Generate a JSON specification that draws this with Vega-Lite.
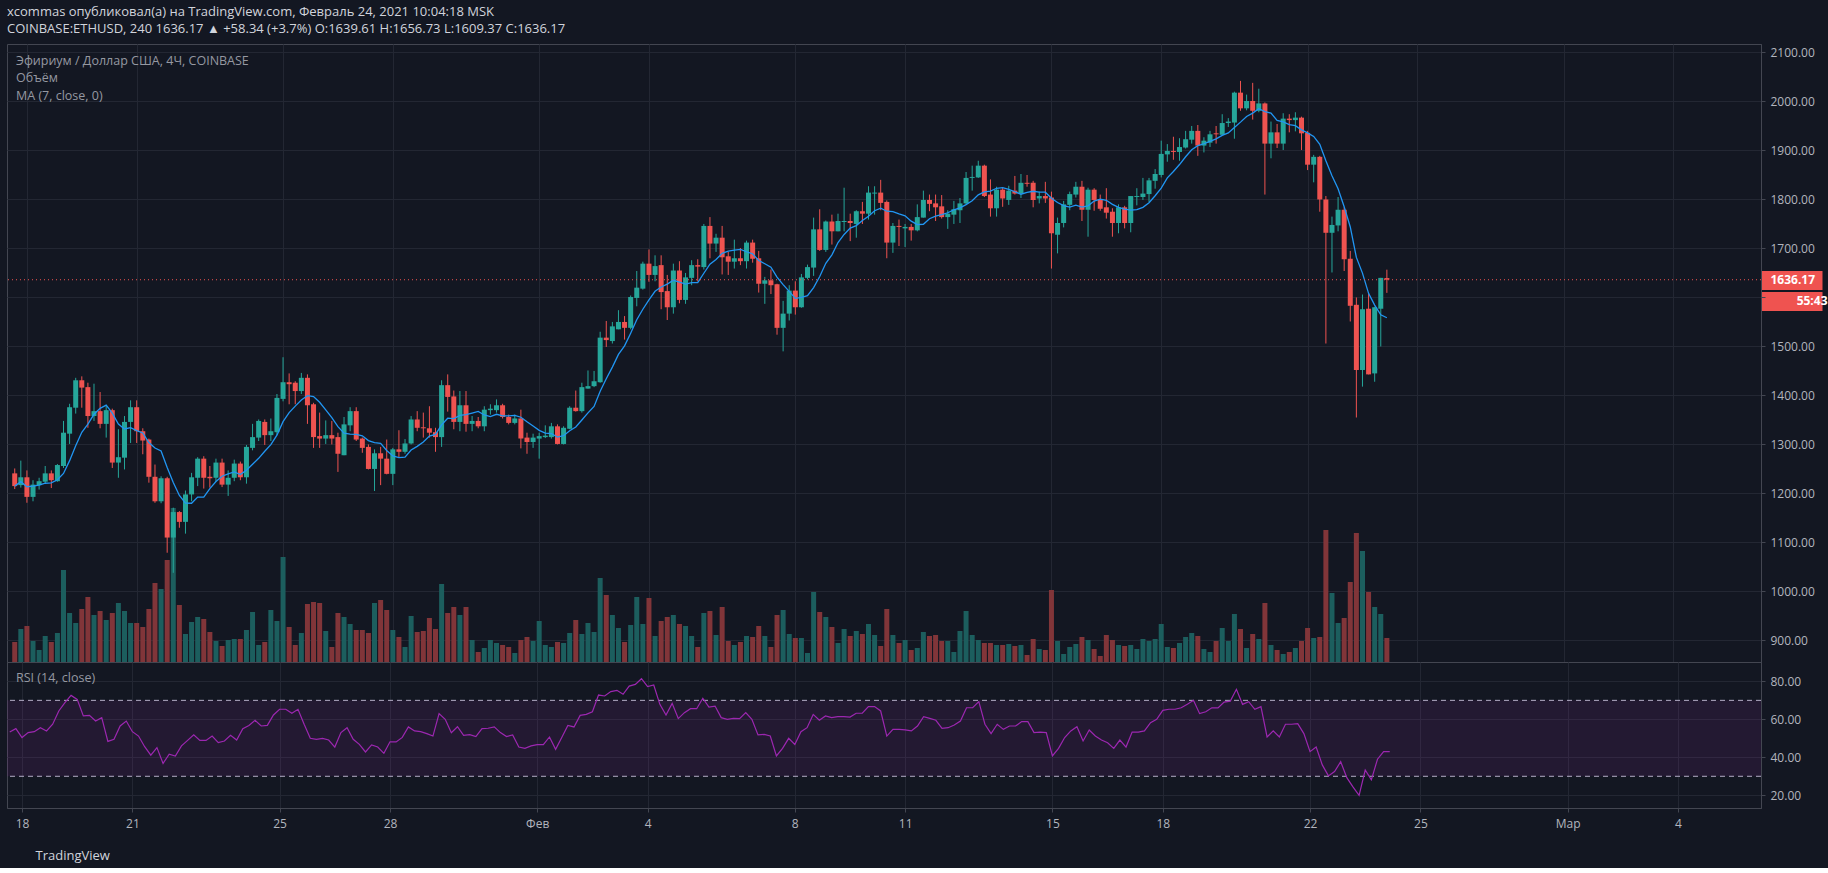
{
  "$schema": "https://vega.github.io/schema/vega-lite/v6.json",
  "background": "#131722",
  "padding": {"left": 6, "top": 5, "right": 68, "bottom": 5},
  "title": {
    "text": "xcommas опубликовал(а) на TradingView.com, Февраль 24, 2021 10:04:18 MSK",
    "subtitle": "COINBASE:ETHUSD, 240  1636.17 ▲ +58.34 (+3.7%)  O:1639.61  H:1656.73  L:1609.37  C:1636.17",
    "anchor": "start", "frame": "bounds", "offset": 8, "dx": 1,
    "font": "Open Sans", "fontSize": 13, "fontWeight": "normal", "color": "#d1d4dc",
    "subtitleFont": "Open Sans", "subtitleFontSize": 13, "subtitleColor": "#d1d4dc", "subtitlePadding": 4
  },
  "config": {
    "view": {"stroke": "#434651", "strokeWidth": 1},
    "font": "Open Sans",
    "axis": {
      "gridColor": "#232733", "domainColor": "#434651", "tickColor": "#434651",
      "labelColor": "#b2b5be", "labelFontSize": 12, "labelFont": "Open Sans",
      "tickSize": 4, "labelPadding": 5, "labelOverlap": false, "labelFlush": false
    }
  },
  "datasets": {
    "band": [{"lo": 30, "hi": 70}],
    "lvl": [{"v": 30}, {"v": 70}],
    "c": [
      {"t":"2021-01-17T16:00Z","o":1241,"h":1251,"l":1209,"c":1215,"v":60,"r":53.3},
      {"t":"2021-01-17T20:00Z","o":1217,"h":1267,"l":1212,"c":1233,"v":99,"r":55.1},
      {"t":"2021-01-18T00:00Z","o":1233,"h":1247,"l":1181,"c":1193,"v":108,"r":50.4},
      {"t":"2021-01-18T04:00Z","o":1193,"h":1227,"l":1184,"c":1218,"v":63,"r":53},
      {"t":"2021-01-18T08:00Z","o":1217,"h":1232,"l":1208,"c":1225,"v":36,"r":53.5},
      {"t":"2021-01-18T12:00Z","o":1224,"h":1256,"l":1220,"c":1241,"v":78,"r":55.6},
      {"t":"2021-01-18T16:00Z","o":1241,"h":1247,"l":1211,"c":1227,"v":60,"r":53.9},
      {"t":"2021-01-18T20:00Z","o":1225,"h":1260,"l":1224,"c":1258,"v":87,"r":57.4},
      {"t":"2021-01-19T00:00Z","o":1256,"h":1348,"l":1252,"c":1324,"v":276,"r":64.4},
      {"t":"2021-01-19T04:00Z","o":1322,"h":1383,"l":1301,"c":1376,"v":147,"r":68.8},
      {"t":"2021-01-19T08:00Z","o":1375,"h":1436,"l":1363,"c":1431,"v":117,"r":72.6},
      {"t":"2021-01-19T12:00Z","o":1431,"h":1439,"l":1375,"c":1416,"v":159,"r":70.5},
      {"t":"2021-01-19T16:00Z","o":1417,"h":1426,"l":1334,"c":1358,"v":195,"r":61.8},
      {"t":"2021-01-19T20:00Z","o":1358,"h":1424,"l":1348,"c":1368,"v":141,"r":62.1},
      {"t":"2021-01-20T00:00Z","o":1368,"h":1407,"l":1333,"c":1342,"v":153,"r":59.1},
      {"t":"2021-01-20T04:00Z","o":1342,"h":1379,"l":1314,"c":1370,"v":126,"r":60.9},
      {"t":"2021-01-20T08:00Z","o":1370,"h":1373,"l":1252,"c":1263,"v":147,"r":48.4},
      {"t":"2021-01-20T12:00Z","o":1263,"h":1331,"l":1232,"c":1274,"v":177,"r":49.5},
      {"t":"2021-01-20T16:00Z","o":1273,"h":1358,"l":1249,"c":1346,"v":153,"r":56.5},
      {"t":"2021-01-20T20:00Z","o":1346,"h":1390,"l":1303,"c":1376,"v":117,"r":59.1},
      {"t":"2021-01-21T00:00Z","o":1376,"h":1390,"l":1303,"c":1327,"v":117,"r":53.5},
      {"t":"2021-01-21T04:00Z","o":1327,"h":1333,"l":1280,"c":1308,"v":105,"r":51.2},
      {"t":"2021-01-21T08:00Z","o":1310,"h":1312,"l":1222,"c":1234,"v":159,"r":45.6},
      {"t":"2021-01-21T12:00Z","o":1234,"h":1259,"l":1181,"c":1184,"v":237,"r":41.1},
      {"t":"2021-01-21T16:00Z","o":1184,"h":1235,"l":1180,"c":1231,"v":219,"r":45.1},
      {"t":"2021-01-21T20:00Z","o":1231,"h":1234,"l":1079,"c":1110,"v":306,"r":36.8},
      {"t":"2021-01-22T00:00Z","o":1110,"h":1171,"l":1038,"c":1162,"v":462,"r":41.6},
      {"t":"2021-01-22T04:00Z","o":1162,"h":1164,"l":1130,"c":1142,"v":171,"r":40.7},
      {"t":"2021-01-22T08:00Z","o":1142,"h":1206,"l":1118,"c":1198,"v":84,"r":46},
      {"t":"2021-01-22T12:00Z","o":1198,"h":1242,"l":1184,"c":1233,"v":120,"r":48.9},
      {"t":"2021-01-22T16:00Z","o":1232,"h":1274,"l":1215,"c":1271,"v":135,"r":51.8},
      {"t":"2021-01-22T20:00Z","o":1271,"h":1276,"l":1210,"c":1232,"v":129,"r":48.9},
      {"t":"2021-01-23T00:00Z","o":1234,"h":1256,"l":1212,"c":1231,"v":90,"r":48.9},
      {"t":"2021-01-23T04:00Z","o":1232,"h":1271,"l":1224,"c":1263,"v":63,"r":51.2},
      {"t":"2021-01-23T08:00Z","o":1263,"h":1271,"l":1213,"c":1218,"v":48,"r":47.7},
      {"t":"2021-01-23T12:00Z","o":1218,"h":1247,"l":1195,"c":1232,"v":66,"r":48.6},
      {"t":"2021-01-23T16:00Z","o":1232,"h":1269,"l":1225,"c":1261,"v":69,"r":51.6},
      {"t":"2021-01-23T20:00Z","o":1261,"h":1265,"l":1227,"c":1233,"v":69,"r":49.1},
      {"t":"2021-01-24T00:00Z","o":1233,"h":1299,"l":1220,"c":1295,"v":96,"r":55.1},
      {"t":"2021-01-24T04:00Z","o":1293,"h":1342,"l":1288,"c":1315,"v":150,"r":56.8},
      {"t":"2021-01-24T08:00Z","o":1314,"h":1351,"l":1307,"c":1348,"v":51,"r":59.5},
      {"t":"2021-01-24T12:00Z","o":1346,"h":1351,"l":1299,"c":1319,"v":60,"r":56.5},
      {"t":"2021-01-24T16:00Z","o":1319,"h":1353,"l":1307,"c":1327,"v":156,"r":56.8},
      {"t":"2021-01-24T20:00Z","o":1325,"h":1403,"l":1319,"c":1395,"v":123,"r":62.3},
      {"t":"2021-01-25T00:00Z","o":1393,"h":1478,"l":1388,"c":1427,"v":315,"r":65.3},
      {"t":"2021-01-25T04:00Z","o":1427,"h":1445,"l":1382,"c":1423,"v":105,"r":65.3},
      {"t":"2021-01-25T08:00Z","o":1426,"h":1429,"l":1382,"c":1409,"v":51,"r":63.2},
      {"t":"2021-01-25T12:00Z","o":1409,"h":1446,"l":1403,"c":1436,"v":87,"r":65.3},
      {"t":"2021-01-25T16:00Z","o":1436,"h":1443,"l":1342,"c":1380,"v":174,"r":57.4},
      {"t":"2021-01-25T20:00Z","o":1382,"h":1385,"l":1293,"c":1315,"v":180,"r":50},
      {"t":"2021-01-26T00:00Z","o":1317,"h":1365,"l":1293,"c":1312,"v":177,"r":49.5},
      {"t":"2021-01-26T04:00Z","o":1312,"h":1349,"l":1301,"c":1319,"v":93,"r":50},
      {"t":"2021-01-26T08:00Z","o":1319,"h":1348,"l":1300,"c":1312,"v":45,"r":49.1},
      {"t":"2021-01-26T12:00Z","o":1315,"h":1324,"l":1244,"c":1281,"v":147,"r":45.4},
      {"t":"2021-01-26T16:00Z","o":1278,"h":1356,"l":1278,"c":1341,"v":135,"r":53},
      {"t":"2021-01-26T20:00Z","o":1339,"h":1376,"l":1327,"c":1368,"v":114,"r":55.6},
      {"t":"2021-01-27T00:00Z","o":1368,"h":1376,"l":1307,"c":1310,"v":96,"r":49.5},
      {"t":"2021-01-27T04:00Z","o":1312,"h":1314,"l":1283,"c":1293,"v":96,"r":46.8},
      {"t":"2021-01-27T08:00Z","o":1295,"h":1300,"l":1249,"c":1250,"v":87,"r":42.8},
      {"t":"2021-01-27T12:00Z","o":1250,"h":1290,"l":1205,"c":1282,"v":177,"r":46.5},
      {"t":"2021-01-27T16:00Z","o":1282,"h":1295,"l":1217,"c":1271,"v":186,"r":45.4},
      {"t":"2021-01-27T20:00Z","o":1271,"h":1310,"l":1239,"c":1240,"v":156,"r":42.1},
      {"t":"2021-01-28T00:00Z","o":1240,"h":1293,"l":1217,"c":1290,"v":96,"r":48.2},
      {"t":"2021-01-28T04:00Z","o":1290,"h":1329,"l":1273,"c":1285,"v":75,"r":48.1},
      {"t":"2021-01-28T08:00Z","o":1285,"h":1311,"l":1281,"c":1302,"v":45,"r":50.5},
      {"t":"2021-01-28T12:00Z","o":1302,"h":1358,"l":1300,"c":1351,"v":138,"r":56},
      {"t":"2021-01-28T16:00Z","o":1351,"h":1368,"l":1327,"c":1334,"v":90,"r":53.9},
      {"t":"2021-01-28T20:00Z","o":1335,"h":1365,"l":1314,"c":1333,"v":93,"r":53.5},
      {"t":"2021-01-29T00:00Z","o":1333,"h":1378,"l":1314,"c":1324,"v":132,"r":52.5},
      {"t":"2021-01-29T04:00Z","o":1325,"h":1334,"l":1285,"c":1315,"v":99,"r":51.2},
      {"t":"2021-01-29T08:00Z","o":1315,"h":1431,"l":1295,"c":1421,"v":234,"r":63},
      {"t":"2021-01-29T12:00Z","o":1421,"h":1443,"l":1367,"c":1397,"v":147,"r":60},
      {"t":"2021-01-29T16:00Z","o":1398,"h":1410,"l":1331,"c":1346,"v":165,"r":53},
      {"t":"2021-01-29T20:00Z","o":1346,"h":1409,"l":1327,"c":1380,"v":141,"r":56.1},
      {"t":"2021-01-30T00:00Z","o":1380,"h":1409,"l":1326,"c":1342,"v":165,"r":51.6},
      {"t":"2021-01-30T04:00Z","o":1342,"h":1358,"l":1327,"c":1348,"v":66,"r":51.9},
      {"t":"2021-01-30T08:00Z","o":1348,"h":1356,"l":1333,"c":1337,"v":30,"r":50.9},
      {"t":"2021-01-30T12:00Z","o":1337,"h":1378,"l":1327,"c":1371,"v":42,"r":55.1},
      {"t":"2021-01-30T16:00Z","o":1370,"h":1382,"l":1361,"c":1373,"v":66,"r":55.3},
      {"t":"2021-01-30T20:00Z","o":1370,"h":1392,"l":1365,"c":1380,"v":57,"r":56},
      {"t":"2021-01-31T00:00Z","o":1380,"h":1383,"l":1353,"c":1356,"v":51,"r":53},
      {"t":"2021-01-31T04:00Z","o":1356,"h":1361,"l":1341,"c":1344,"v":45,"r":50.9},
      {"t":"2021-01-31T08:00Z","o":1344,"h":1361,"l":1341,"c":1353,"v":27,"r":51.8},
      {"t":"2021-01-31T12:00Z","o":1353,"h":1371,"l":1292,"c":1312,"v":66,"r":45.4},
      {"t":"2021-01-31T16:00Z","o":1314,"h":1324,"l":1281,"c":1305,"v":75,"r":44.7},
      {"t":"2021-01-31T20:00Z","o":1305,"h":1322,"l":1293,"c":1314,"v":63,"r":46},
      {"t":"2021-02-01T00:00Z","o":1312,"h":1324,"l":1271,"c":1317,"v":123,"r":46.7},
      {"t":"2021-02-01T04:00Z","o":1315,"h":1339,"l":1313,"c":1318,"v":51,"r":46.7},
      {"t":"2021-02-01T08:00Z","o":1315,"h":1344,"l":1312,"c":1337,"v":45,"r":50.7},
      {"t":"2021-02-01T12:00Z","o":1337,"h":1341,"l":1300,"c":1301,"v":60,"r":44.2},
      {"t":"2021-02-01T16:00Z","o":1301,"h":1337,"l":1300,"c":1334,"v":57,"r":50.4},
      {"t":"2021-02-01T20:00Z","o":1332,"h":1378,"l":1331,"c":1375,"v":87,"r":56.8},
      {"t":"2021-02-02T00:00Z","o":1375,"h":1410,"l":1367,"c":1368,"v":126,"r":56},
      {"t":"2021-02-02T04:00Z","o":1368,"h":1426,"l":1365,"c":1417,"v":84,"r":62.1},
      {"t":"2021-02-02T08:00Z","o":1414,"h":1451,"l":1414,"c":1419,"v":117,"r":62.6},
      {"t":"2021-02-02T12:00Z","o":1419,"h":1450,"l":1417,"c":1429,"v":90,"r":64},
      {"t":"2021-02-02T16:00Z","o":1427,"h":1530,"l":1426,"c":1518,"v":252,"r":72.8},
      {"t":"2021-02-02T20:00Z","o":1518,"h":1552,"l":1499,"c":1513,"v":201,"r":72.3},
      {"t":"2021-02-03T00:00Z","o":1511,"h":1550,"l":1506,"c":1541,"v":141,"r":74.6},
      {"t":"2021-02-03T04:00Z","o":1535,"h":1574,"l":1535,"c":1550,"v":102,"r":75.3},
      {"t":"2021-02-03T08:00Z","o":1550,"h":1562,"l":1514,"c":1538,"v":60,"r":73.2},
      {"t":"2021-02-03T12:00Z","o":1538,"h":1604,"l":1535,"c":1601,"v":111,"r":77.5},
      {"t":"2021-02-03T16:00Z","o":1599,"h":1654,"l":1582,"c":1620,"v":195,"r":78.4},
      {"t":"2021-02-03T20:00Z","o":1618,"h":1673,"l":1616,"c":1669,"v":114,"r":81.4},
      {"t":"2021-02-04T00:00Z","o":1669,"h":1698,"l":1632,"c":1646,"v":192,"r":77.2},
      {"t":"2021-02-04T04:00Z","o":1646,"h":1686,"l":1633,"c":1664,"v":78,"r":78.1},
      {"t":"2021-02-04T08:00Z","o":1666,"h":1686,"l":1576,"c":1611,"v":123,"r":67.9},
      {"t":"2021-02-04T12:00Z","o":1613,"h":1646,"l":1554,"c":1580,"v":135,"r":62.3},
      {"t":"2021-02-04T16:00Z","o":1580,"h":1669,"l":1567,"c":1655,"v":141,"r":68.4},
      {"t":"2021-02-04T20:00Z","o":1655,"h":1674,"l":1588,"c":1595,"v":114,"r":60.4},
      {"t":"2021-02-05T00:00Z","o":1595,"h":1650,"l":1587,"c":1641,"v":108,"r":63.5},
      {"t":"2021-02-05T04:00Z","o":1640,"h":1676,"l":1625,"c":1666,"v":78,"r":65.6},
      {"t":"2021-02-05T08:00Z","o":1666,"h":1678,"l":1633,"c":1663,"v":45,"r":65.6},
      {"t":"2021-02-05T12:00Z","o":1662,"h":1750,"l":1657,"c":1746,"v":147,"r":71.1},
      {"t":"2021-02-05T16:00Z","o":1746,"h":1764,"l":1680,"c":1710,"v":153,"r":66.5},
      {"t":"2021-02-05T20:00Z","o":1710,"h":1730,"l":1693,"c":1722,"v":81,"r":67},
      {"t":"2021-02-06T00:00Z","o":1722,"h":1746,"l":1647,"c":1682,"v":165,"r":60.9},
      {"t":"2021-02-06T04:00Z","o":1684,"h":1693,"l":1646,"c":1673,"v":63,"r":60},
      {"t":"2021-02-06T08:00Z","o":1673,"h":1718,"l":1659,"c":1680,"v":51,"r":60.5},
      {"t":"2021-02-06T12:00Z","o":1680,"h":1701,"l":1666,"c":1674,"v":60,"r":60.4},
      {"t":"2021-02-06T16:00Z","o":1674,"h":1716,"l":1659,"c":1712,"v":78,"r":63.5},
      {"t":"2021-02-06T20:00Z","o":1712,"h":1718,"l":1671,"c":1679,"v":75,"r":60},
      {"t":"2021-02-07T00:00Z","o":1680,"h":1695,"l":1610,"c":1628,"v":108,"r":51.8},
      {"t":"2021-02-07T04:00Z","o":1628,"h":1642,"l":1587,"c":1635,"v":78,"r":52.1},
      {"t":"2021-02-07T08:00Z","o":1635,"h":1657,"l":1607,"c":1625,"v":45,"r":51.2},
      {"t":"2021-02-07T12:00Z","o":1627,"h":1628,"l":1524,"c":1538,"v":141,"r":40.7},
      {"t":"2021-02-07T16:00Z","o":1538,"h":1593,"l":1490,"c":1567,"v":156,"r":44.7},
      {"t":"2021-02-07T20:00Z","o":1567,"h":1625,"l":1553,"c":1614,"v":84,"r":50},
      {"t":"2021-02-08T00:00Z","o":1614,"h":1633,"l":1565,"c":1580,"v":72,"r":46.8},
      {"t":"2021-02-08T04:00Z","o":1580,"h":1648,"l":1579,"c":1641,"v":72,"r":53.5},
      {"t":"2021-02-08T08:00Z","o":1640,"h":1667,"l":1637,"c":1662,"v":27,"r":55.6},
      {"t":"2021-02-08T12:00Z","o":1661,"h":1763,"l":1644,"c":1739,"v":210,"r":62.6},
      {"t":"2021-02-08T16:00Z","o":1739,"h":1780,"l":1695,"c":1697,"v":150,"r":59.5},
      {"t":"2021-02-08T20:00Z","o":1697,"h":1757,"l":1693,"c":1755,"v":135,"r":61.8},
      {"t":"2021-02-09T00:00Z","o":1755,"h":1769,"l":1708,"c":1735,"v":105,"r":60.9},
      {"t":"2021-02-09T04:00Z","o":1735,"h":1771,"l":1735,"c":1756,"v":57,"r":61.4},
      {"t":"2021-02-09T08:00Z","o":1754,"h":1824,"l":1735,"c":1756,"v":99,"r":61.4},
      {"t":"2021-02-09T12:00Z","o":1756,"h":1771,"l":1715,"c":1752,"v":78,"r":61.2},
      {"t":"2021-02-09T16:00Z","o":1750,"h":1778,"l":1722,"c":1776,"v":93,"r":63.2},
      {"t":"2021-02-09T20:00Z","o":1776,"h":1795,"l":1750,"c":1771,"v":84,"r":63.2},
      {"t":"2021-02-10T00:00Z","o":1771,"h":1827,"l":1759,"c":1814,"v":114,"r":66.7},
      {"t":"2021-02-10T04:00Z","o":1812,"h":1827,"l":1769,"c":1814,"v":81,"r":66.7},
      {"t":"2021-02-10T08:00Z","o":1814,"h":1840,"l":1778,"c":1793,"v":48,"r":64.4},
      {"t":"2021-02-10T12:00Z","o":1795,"h":1798,"l":1680,"c":1712,"v":159,"r":51.2},
      {"t":"2021-02-10T16:00Z","o":1712,"h":1752,"l":1691,"c":1746,"v":81,"r":54.7},
      {"t":"2021-02-10T20:00Z","o":1746,"h":1759,"l":1705,"c":1744,"v":57,"r":54.7},
      {"t":"2021-02-11T00:00Z","o":1741,"h":1750,"l":1703,"c":1744,"v":66,"r":54.4},
      {"t":"2021-02-11T04:00Z","o":1744,"h":1750,"l":1716,"c":1737,"v":36,"r":53.9},
      {"t":"2021-02-11T08:00Z","o":1737,"h":1790,"l":1735,"c":1764,"v":42,"r":56.5},
      {"t":"2021-02-11T12:00Z","o":1763,"h":1818,"l":1763,"c":1799,"v":90,"r":61.4},
      {"t":"2021-02-11T16:00Z","o":1799,"h":1810,"l":1776,"c":1791,"v":78,"r":60.5},
      {"t":"2021-02-11T20:00Z","o":1792,"h":1810,"l":1756,"c":1784,"v":81,"r":59.5},
      {"t":"2021-02-12T00:00Z","o":1786,"h":1809,"l":1761,"c":1764,"v":63,"r":55.3},
      {"t":"2021-02-12T04:00Z","o":1764,"h":1778,"l":1740,"c":1771,"v":63,"r":55.6},
      {"t":"2021-02-12T08:00Z","o":1769,"h":1797,"l":1750,"c":1780,"v":30,"r":57},
      {"t":"2021-02-12T12:00Z","o":1778,"h":1803,"l":1752,"c":1792,"v":93,"r":59.1},
      {"t":"2021-02-12T16:00Z","o":1792,"h":1856,"l":1790,"c":1844,"v":153,"r":66.1},
      {"t":"2021-02-12T20:00Z","o":1844,"h":1869,"l":1818,"c":1846,"v":81,"r":66.1},
      {"t":"2021-02-13T00:00Z","o":1845,"h":1879,"l":1844,"c":1869,"v":66,"r":69.3},
      {"t":"2021-02-13T04:00Z","o":1869,"h":1871,"l":1805,"c":1807,"v":57,"r":57.4},
      {"t":"2021-02-13T08:00Z","o":1810,"h":1841,"l":1765,"c":1782,"v":57,"r":52.5},
      {"t":"2021-02-13T12:00Z","o":1782,"h":1826,"l":1765,"c":1820,"v":51,"r":57.4},
      {"t":"2021-02-13T16:00Z","o":1820,"h":1824,"l":1785,"c":1802,"v":51,"r":54.7},
      {"t":"2021-02-13T20:00Z","o":1799,"h":1828,"l":1789,"c":1818,"v":54,"r":56.5},
      {"t":"2021-02-14T00:00Z","o":1818,"h":1848,"l":1810,"c":1812,"v":48,"r":56.5},
      {"t":"2021-02-14T04:00Z","o":1812,"h":1852,"l":1803,"c":1834,"v":51,"r":58.8},
      {"t":"2021-02-14T08:00Z","o":1834,"h":1850,"l":1826,"c":1832,"v":21,"r":58.8},
      {"t":"2021-02-14T12:00Z","o":1834,"h":1838,"l":1784,"c":1799,"v":69,"r":53},
      {"t":"2021-02-14T16:00Z","o":1802,"h":1816,"l":1792,"c":1807,"v":39,"r":53.3},
      {"t":"2021-02-14T20:00Z","o":1807,"h":1836,"l":1793,"c":1802,"v":36,"r":53},
      {"t":"2021-02-15T00:00Z","o":1804,"h":1816,"l":1659,"c":1731,"v":216,"r":40.7},
      {"t":"2021-02-15T04:00Z","o":1728,"h":1763,"l":1690,"c":1752,"v":63,"r":44.7},
      {"t":"2021-02-15T08:00Z","o":1752,"h":1797,"l":1743,"c":1790,"v":24,"r":50.4},
      {"t":"2021-02-15T12:00Z","o":1789,"h":1816,"l":1778,"c":1811,"v":45,"r":53.9},
      {"t":"2021-02-15T16:00Z","o":1810,"h":1836,"l":1804,"c":1826,"v":54,"r":56.1},
      {"t":"2021-02-15T20:00Z","o":1826,"h":1838,"l":1756,"c":1779,"v":75,"r":48.6},
      {"t":"2021-02-16T00:00Z","o":1779,"h":1824,"l":1724,"c":1820,"v":66,"r":54.4},
      {"t":"2021-02-16T04:00Z","o":1820,"h":1823,"l":1777,"c":1799,"v":39,"r":51.2},
      {"t":"2021-02-16T08:00Z","o":1801,"h":1810,"l":1777,"c":1781,"v":18,"r":49.1},
      {"t":"2021-02-16T12:00Z","o":1784,"h":1823,"l":1761,"c":1773,"v":81,"r":47.7},
      {"t":"2021-02-16T16:00Z","o":1775,"h":1782,"l":1724,"c":1752,"v":66,"r":44.7},
      {"t":"2021-02-16T20:00Z","o":1752,"h":1790,"l":1731,"c":1784,"v":51,"r":49.1},
      {"t":"2021-02-17T00:00Z","o":1784,"h":1787,"l":1741,"c":1752,"v":48,"r":45.4},
      {"t":"2021-02-17T04:00Z","o":1752,"h":1807,"l":1733,"c":1807,"v":51,"r":53.3},
      {"t":"2021-02-17T08:00Z","o":1805,"h":1823,"l":1788,"c":1807,"v":39,"r":53.3},
      {"t":"2021-02-17T12:00Z","o":1805,"h":1844,"l":1799,"c":1812,"v":69,"r":53.9},
      {"t":"2021-02-17T16:00Z","o":1811,"h":1844,"l":1795,"c":1839,"v":63,"r":58.2},
      {"t":"2021-02-17T20:00Z","o":1838,"h":1862,"l":1822,"c":1852,"v":69,"r":60},
      {"t":"2021-02-18T00:00Z","o":1850,"h":1920,"l":1845,"c":1893,"v":114,"r":64.7},
      {"t":"2021-02-18T04:00Z","o":1892,"h":1913,"l":1877,"c":1899,"v":45,"r":65.3},
      {"t":"2021-02-18T08:00Z","o":1899,"h":1928,"l":1881,"c":1897,"v":42,"r":65.3},
      {"t":"2021-02-18T12:00Z","o":1897,"h":1925,"l":1879,"c":1907,"v":57,"r":66.1},
      {"t":"2021-02-18T16:00Z","o":1906,"h":1940,"l":1904,"c":1923,"v":75,"r":67.9},
      {"t":"2021-02-18T20:00Z","o":1922,"h":1950,"l":1914,"c":1940,"v":87,"r":70},
      {"t":"2021-02-19T00:00Z","o":1940,"h":1952,"l":1889,"c":1910,"v":78,"r":63},
      {"t":"2021-02-19T04:00Z","o":1910,"h":1927,"l":1896,"c":1920,"v":39,"r":64},
      {"t":"2021-02-19T08:00Z","o":1916,"h":1940,"l":1907,"c":1933,"v":30,"r":66.1},
      {"t":"2021-02-19T12:00Z","o":1935,"h":1950,"l":1914,"c":1933,"v":63,"r":66},
      {"t":"2021-02-19T16:00Z","o":1932,"h":1974,"l":1932,"c":1956,"v":102,"r":69.1},
      {"t":"2021-02-19T20:00Z","o":1956,"h":1966,"l":1948,"c":1959,"v":63,"r":69.6},
      {"t":"2021-02-20T00:00Z","o":1957,"h":2020,"l":1924,"c":2018,"v":144,"r":75.8},
      {"t":"2021-02-20T04:00Z","o":2018,"h":2042,"l":1981,"c":1986,"v":99,"r":67.9},
      {"t":"2021-02-20T08:00Z","o":1986,"h":2014,"l":1982,"c":2001,"v":42,"r":69.3},
      {"t":"2021-02-20T12:00Z","o":2001,"h":2038,"l":1963,"c":1981,"v":84,"r":65.3},
      {"t":"2021-02-20T16:00Z","o":1981,"h":2026,"l":1978,"c":1996,"v":69,"r":66.7},
      {"t":"2021-02-20T20:00Z","o":1996,"h":1998,"l":1810,"c":1914,"v":177,"r":50.7},
      {"t":"2021-02-21T00:00Z","o":1914,"h":1959,"l":1884,"c":1937,"v":51,"r":53.9},
      {"t":"2021-02-21T04:00Z","o":1937,"h":1954,"l":1905,"c":1914,"v":36,"r":50.7},
      {"t":"2021-02-21T08:00Z","o":1914,"h":1976,"l":1901,"c":1965,"v":24,"r":57.4},
      {"t":"2021-02-21T12:00Z","o":1965,"h":1974,"l":1937,"c":1962,"v":30,"r":57.4},
      {"t":"2021-02-21T16:00Z","o":1962,"h":1978,"l":1939,"c":1967,"v":42,"r":57.7},
      {"t":"2021-02-21T20:00Z","o":1967,"h":1969,"l":1901,"c":1935,"v":63,"r":52.5},
      {"t":"2021-02-22T00:00Z","o":1936,"h":1940,"l":1860,"c":1871,"v":102,"r":43},
      {"t":"2021-02-22T04:00Z","o":1871,"h":1891,"l":1835,"c":1887,"v":72,"r":45.4},
      {"t":"2021-02-22T08:00Z","o":1887,"h":1889,"l":1775,"c":1800,"v":75,"r":36},
      {"t":"2021-02-22T12:00Z","o":1800,"h":1807,"l":1506,"c":1732,"v":396,"r":30.2},
      {"t":"2021-02-22T16:00Z","o":1732,"h":1765,"l":1651,"c":1748,"v":207,"r":32.5},
      {"t":"2021-02-22T20:00Z","o":1747,"h":1805,"l":1735,"c":1779,"v":117,"r":37.7},
      {"t":"2021-02-23T00:00Z","o":1779,"h":1784,"l":1654,"c":1678,"v":132,"r":29.3},
      {"t":"2021-02-23T04:00Z","o":1679,"h":1695,"l":1551,"c":1583,"v":240,"r":24.4},
      {"t":"2021-02-23T08:00Z","o":1585,"h":1600,"l":1355,"c":1452,"v":387,"r":20},
      {"t":"2021-02-23T12:00Z","o":1452,"h":1606,"l":1418,"c":1576,"v":333,"r":33.3},
      {"t":"2021-02-23T16:00Z","o":1577,"h":1610,"l":1443,"c":1443,"v":210,"r":28.1},
      {"t":"2021-02-23T20:00Z","o":1445,"h":1581,"l":1428,"c":1580,"v":165,"r":39},
      {"t":"2021-02-24T00:00Z","o":1577,"h":1640,"l":1500,"c":1640,"v":144,"r":43},
      {"t":"2021-02-24T04:00Z","o":1639.61,"h":1656.73,"l":1609.37,"c":1636.17,"v":72,"r":43}
    ]
  },
  "spacing": 0,
  "bounds": "flush",
  "vconcat": [
    {
      "width": 1754,
      "height": 618,
      "title": {
        "text": ["Эфириум / Доллар США, 4Ч, COINBASE", "Объём", "MA (7, close, 0)"],
        "anchor": "start", "frame": "group", "offset": -58, "dx": 9,
        "font": "Open Sans", "fontSize": 12.5, "fontWeight": "normal", "color": "#9598a1", "lineHeight": 17.5
      },
      "data": {"name": "c"},
      "layer": [
        {
          "mark": {"type": "bar", "size": 5},
          "encoding": {
            "x": {"field": "t", "type": "temporal",
              "scale": {"type": "utc", "domain": [{"year": 2021, "month": 1, "date": 17, "hours": 14, "minutes": 13, "utc": true}, {"year": 2021, "month": 3, "date": 6, "hours": 6, "minutes": 7, "utc": true}]},
              "axis": {"orient": "bottom", "title": null, "labels": false, "ticks": false, "domain": false, "grid": true,
                "values": [
                  {"year": 2021, "month": 1, "date": 18, "utc": true}, {"year": 2021, "month": 1, "date": 21, "utc": true},
                  {"year": 2021, "month": 1, "date": 25, "utc": true}, {"year": 2021, "month": 1, "date": 28, "utc": true},
                  {"year": 2021, "month": 2, "date": 1, "utc": true}, {"year": 2021, "month": 2, "date": 4, "utc": true},
                  {"year": 2021, "month": 2, "date": 8, "utc": true}, {"year": 2021, "month": 2, "date": 11, "utc": true},
                  {"year": 2021, "month": 2, "date": 15, "utc": true}, {"year": 2021, "month": 2, "date": 18, "utc": true},
                  {"year": 2021, "month": 2, "date": 22, "utc": true}, {"year": 2021, "month": 2, "date": 25, "utc": true},
                  {"year": 2021, "month": 3, "date": 1, "utc": true}, {"year": 2021, "month": 3, "date": 4, "utc": true}
                ]}},
            "y": {"field": "v", "type": "quantitative", "scale": {"domain": [0, 1854], "nice": false}, "axis": null},
            "color": {"condition": {"test": "datum.c >= datum.o", "value": "#1c5e5e"}, "value": "#813539"}
          }
        },
        {
          "layer": [
            {
              "mark": {"type": "rule", "strokeWidth": 1},
              "encoding": {
                "x": {"field": "t", "type": "temporal", "axis": null},
                "y": {"field": "l", "type": "quantitative",
                  "scale": {"domain": [856, 2117.3], "nice": false, "zero": false},
                  "axis": {
                    "orient": "right", "title": null, "grid": true,
                    "values": [900, 1000, 1100, 1200, 1300, 1400, 1500, 1593.5, 1600, 1636.17, 1700, 1800, 1900, 2000, 2100],
                    "labelExpr": "datum.value == 1593.5 ? '55:43' : format(datum.value, '.2f')",
                    "tickSize": {"condition": {"test": "datum.value == 1636.17 || datum.value == 1593.5", "value": 61}, "value": 4},
                    "tickWidth": {"condition": {"test": "datum.value == 1636.17 || datum.value == 1593.5", "value": 19}, "value": 1},
                    "tickColor": {"condition": {"test": "datum.value == 1636.17 || datum.value == 1593.5", "value": "#ef5350"}, "value": "#434651"},
                    "labelPadding": {"condition": {"test": "datum.value == 1636.17", "value": -52}, "value": 5},
                    "labelOffset": {"condition": {"test": "datum.value == 1593.5", "value": 0}, "value": 0},
                    "labelColor": {"condition": {"test": "datum.value == 1636.17 || datum.value == 1593.5", "value": "#ffffff"}, "value": "#b2b5be"},
                    "labelFontWeight": {"condition": {"test": "datum.value == 1636.17 || datum.value == 1593.5", "value": "bold"}, "value": "normal"},
                    "labelOpacity": {"condition": {"test": "datum.value == 1600", "value": 0}, "value": 1},
                    "gridOpacity": {"condition": {"test": "datum.value == 1636.17 || datum.value == 1593.5", "value": 0}, "value": 1},
                    "labelAlign": {"condition": {"test": "datum.value == 1593.5", "value": "right"}, "value": "left"}
                  }},
                "y2": {"field": "h"},
                "color": {"condition": {"test": "datum.c >= datum.o", "value": "#26a69a"}, "value": "#ef5350"}
              }
            },
            {
              "mark": {"type": "bar", "size": 5},
              "encoding": {
                "x": {"field": "t", "type": "temporal", "axis": null},
                "y": {"field": "o", "type": "quantitative", "axis": null},
                "y2": {"field": "c"},
                "color": {"condition": {"test": "datum.c >= datum.o", "value": "#26a69a"}, "value": "#ef5350"}
              }
            },
            {
              "transform": [{"window": [{"op": "mean", "field": "c", "as": "ma"}], "frame": [-6, 0], "sort": [{"field": "t"}]}],
              "mark": {"type": "line", "color": "#2196f3", "strokeWidth": 1.3},
              "encoding": {
                "x": {"field": "t", "type": "temporal", "axis": null},
                "y": {"field": "ma", "type": "quantitative", "axis": null}
              }
            },
            {
              "transform": [{"filter": "datum.c == 1636.17"}],
              "mark": {"type": "rule", "color": "#ef5350", "strokeDash": [1, 3], "strokeWidth": 1},
              "encoding": {
                "y": {"field": "c", "type": "quantitative", "axis": null}
              }
            }
          ],
          "resolve": {"axis": {"x": "independent", "y": "independent"}}
        }
      ],
      "resolve": {"scale": {"y": "independent"}, "axis": {"x": "independent", "y": "independent"}}
    },
    {
      "width": 1754,
      "height": 146,
      "title": {
        "text": "RSI (14, close)",
        "anchor": "start", "frame": "group", "offset": -22, "dx": 9,
        "font": "Open Sans", "fontSize": 12.5, "fontWeight": "normal", "color": "#9598a1"
      },
      "layer": [
        {
          "data": {"name": "band"},
          "mark": {"type": "rect", "color": "#9c27b0", "opacity": 0.12},
          "encoding": {
            "y": {"field": "lo", "type": "quantitative", "axis": null},
            "y2": {"field": "hi"}
          }
        },
        {
          "data": {"name": "lvl"},
          "mark": {"type": "rule", "color": "#cfc8e3", "strokeDash": [5, 4], "strokeWidth": 1, "opacity": 0.85},
          "encoding": {
            "y": {"field": "v", "type": "quantitative", "axis": null}
          }
        },
        {
          "data": {"name": "c"},
          "mark": {"type": "line", "color": "#9c27b0", "strokeWidth": 1.2},
          "encoding": {
            "x": {"field": "t", "type": "temporal",
              "scale": {"type": "utc", "domain": [{"year": 2021, "month": 1, "date": 17, "hours": 14, "minutes": 13, "utc": true}, {"year": 2021, "month": 3, "date": 6, "hours": 6, "minutes": 7, "utc": true}]},
              "axis": {"orient": "bottom", "grid": true, "labelPadding": 6, "labelAngle": 0,
                "values": [
                  {"year": 2021, "month": 1, "date": 18, "utc": true}, {"year": 2021, "month": 1, "date": 21, "utc": true},
                  {"year": 2021, "month": 1, "date": 25, "utc": true}, {"year": 2021, "month": 1, "date": 28, "utc": true},
                  {"year": 2021, "month": 2, "date": 1, "utc": true}, {"year": 2021, "month": 2, "date": 4, "utc": true},
                  {"year": 2021, "month": 2, "date": 8, "utc": true}, {"year": 2021, "month": 2, "date": 11, "utc": true},
                  {"year": 2021, "month": 2, "date": 15, "utc": true}, {"year": 2021, "month": 2, "date": 18, "utc": true},
                  {"year": 2021, "month": 2, "date": 22, "utc": true}, {"year": 2021, "month": 2, "date": 25, "utc": true},
                  {"year": 2021, "month": 3, "date": 1, "utc": true}, {"year": 2021, "month": 3, "date": 4, "utc": true}
                ],
                "labelExpr": "utcdate(datum.value) == 1 ? (utcmonth(datum.value) == 1 ? 'Фев' : 'Мар') : '' + utcdate(datum.value)",
                "title": "TradingView", "titleX": 28, "titleY": 47, "titleAlign": "left", "titleBaseline": "middle",
                "titleFont": "Open Sans", "titleFontSize": 13, "titleFontWeight": "normal", "titleColor": "#d1d4dc"
              }},
            "y": {"field": "r", "type": "quantitative",
              "scale": {"domain": [13.3, 90.2], "nice": false, "zero": false},
              "axis": {"orient": "right", "title": null, "grid": true, "values": [20, 40, 60, 80], "format": ".2f"}}
          }
        }
      ],
      "resolve": {"axis": {"y": "independent"}}
    }
  ]
}
